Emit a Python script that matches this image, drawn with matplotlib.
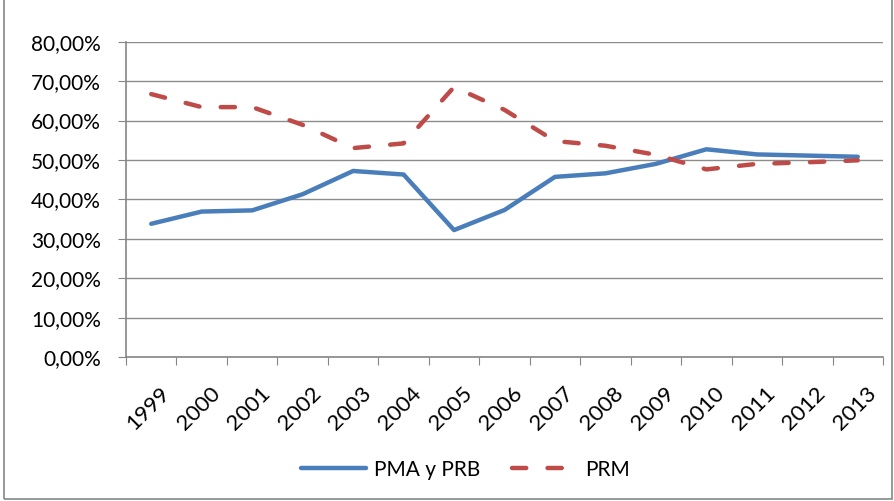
import matplotlib
matplotlib.use("Agg")
import matplotlib.pyplot as plt
from matplotlib.patches import Rectangle
from matplotlib.ticker import FuncFormatter
from matplotlib.transforms import ScaledTranslation

years = ['1999', '2000', '2001', '2002', '2003', '2004', '2005', '2006',
         '2007', '2008', '2009', '2010', '2011', '2012', '2013']
pma_prb = [33.8, 36.9, 37.2, 41.3, 47.2, 46.3, 32.2, 37.3,
           45.7, 46.6, 49.0, 52.7, 51.4, 51.1, 50.8]
prm = [66.7, 63.4, 63.4, 58.9, 53.0, 54.2, 68.5, 62.7,
       54.8, 53.6, 51.3, 47.6, 49.0, 49.4, 49.9]

plt.rcParams['font.family'] = ['Lato', 'DejaVu Sans']

fig = plt.figure(figsize=(8.95, 5.01), dpi=100)
ax = fig.add_axes([0.1408, 0.2874, 0.8458, 0.6294])

x = list(range(len(years)))
ax.plot(x, pma_prb, color='#4a7ebb', lw=3.2, label='PMA y PRB', solid_capstyle='round')
ax.plot(x, prm, color='#be4b48', lw=3.2, ls=(0, (3.2, 4.8)), label='PRM', dash_capstyle='round')

ax.set_xlim(-0.5, len(years) - 0.5)
ax.set_ylim(0, 80)
ax.set_yticks(range(0, 81, 10))
ax.yaxis.set_major_formatter(FuncFormatter(lambda v, p: f'{v:.2f}%'.replace('.', ',')))
ax.set_xticks([i - 0.5 for i in range(len(years) + 1)], minor=False)
ax.set_xticklabels([])
ax.set_xticks(x, minor=True)
ax.set_xticklabels(years, minor=True, rotation=45, ha='right', va='top',
                   rotation_mode='anchor', fontsize=16)
ax.tick_params(axis='x', which='minor', length=0, pad=19)
ax.tick_params(axis='x', which='major', length=6, color='#868686', direction='out')
ax.tick_params(axis='y', length=6, color='#868686', labelsize=15, pad=12)

# shift the year labels a little to the right, as in the original
shift = ScaledTranslation(0.08, 0, fig.dpi_scale_trans)
for lab in ax.get_xticklabels(minor=True):
    lab.set_transform(lab.get_transform() + shift)

ax.grid(axis='y', color='#8c8c8c', lw=1)
ax.set_axisbelow(True)
for s in ['top', 'right']:
    ax.spines[s].set_visible(False)
for s in ['left', 'bottom']:
    ax.spines[s].set_color('#868686')
    ax.spines[s].set_linewidth(1.2)

fig.legend(loc='lower center', bbox_to_anchor=(0.52, 0.005), ncol=2, frameon=False,
           fontsize=15, handlelength=3.1, columnspacing=1.5, handletextpad=0.4)

fig.patches.append(Rectangle((0.004, 0.004), 0.993, 1.2, transform=fig.transFigure,
                             fill=False, edgecolor='#868686', lw=1.2))

fig.savefig('out.png', dpi=100)
